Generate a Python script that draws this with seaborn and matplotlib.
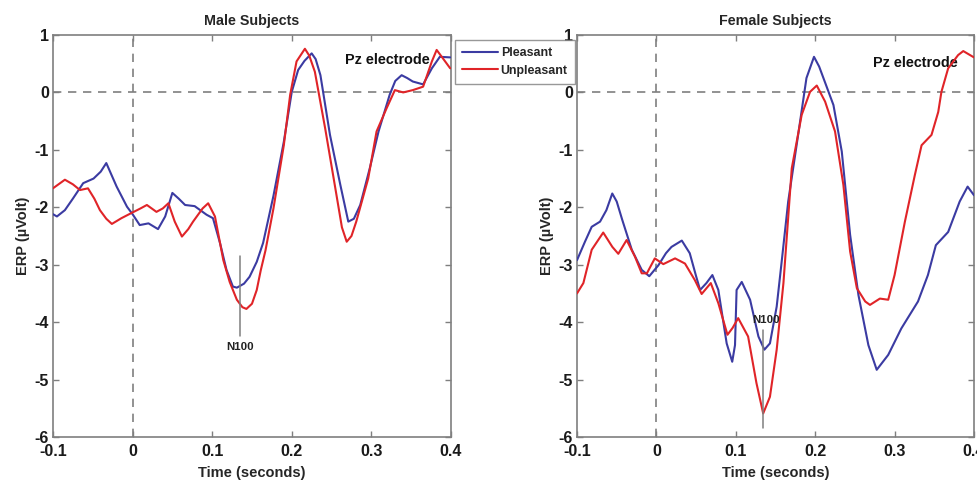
import matplotlib
matplotlib.use("Agg")
import matplotlib.pyplot as plt
import seaborn as sns
import pandas as pd

# ERP traces (time in s, amplitude in microvolt)
male_pleasant_t = [-0.100, -0.095, -0.085, -0.075, -0.062, -0.049, -0.040, -0.033, -0.020, -0.007,
                   0.000, 0.009, 0.020, 0.032, 0.041, 0.050, 0.058, 0.066, 0.078, 0.093,
                   0.101, 0.110, 0.118, 0.126, 0.131, 0.140, 0.147, 0.156, 0.164, 0.177,
                   0.190, 0.200, 0.208, 0.216, 0.225, 0.230, 0.236, 0.248, 0.261, 0.271,
                   0.278, 0.286, 0.298, 0.309, 0.323, 0.330, 0.338, 0.345, 0.352, 0.365,
                   0.376, 0.386, 0.399]
male_pleasant_v = [-2.12, -2.16, -2.05, -1.85, -1.58, -1.50, -1.38, -1.23, -1.64, -1.99,
                   -2.12, -2.31, -2.28, -2.38, -2.16, -1.75, -1.85, -1.96, -1.98, -2.13,
                   -2.19, -2.63, -3.09, -3.38, -3.40, -3.33, -3.21, -2.95, -2.62, -1.80,
                   -0.86, 0.01, 0.39, 0.55, 0.68, 0.58, 0.30, -0.74, -1.61, -2.25,
                   -2.20, -1.96, -1.32, -0.68, -0.04, 0.20, 0.30, 0.25, 0.19, 0.14,
                   0.42, 0.62, 0.61]

male_unpleasant_t = [-0.100, -0.085, -0.075, -0.066, -0.056, -0.048, -0.041, -0.033, -0.026, -0.014,
                     0.000, 0.010, 0.018, 0.030, 0.038, 0.045, 0.053, 0.062, 0.070, 0.076,
                     0.088, 0.095, 0.1035, 0.114, 0.122, 0.131, 0.138, 0.143, 0.150, 0.156,
                     0.161, 0.167, 0.177, 0.190, 0.198, 0.206, 0.2165, 0.222, 0.229, 0.242,
                     0.254, 0.263, 0.269, 0.275, 0.281, 0.296, 0.3065, 0.319, 0.3295, 0.340,
                     0.352, 0.365, 0.376, 0.382, 0.390, 0.399]
male_unpleasant_v = [-1.67, -1.52, -1.60, -1.70, -1.67, -1.85, -2.05, -2.20, -2.29, -2.19,
                     -2.09, -2.02, -1.96, -2.08, -2.02, -1.93, -2.25, -2.51, -2.38, -2.25,
                     -2.02, -1.93, -2.16, -2.92, -3.30, -3.61, -3.74, -3.77, -3.68, -3.44,
                     -3.10, -2.75, -2.02, -0.92, -0.04, 0.54, 0.76, 0.64, 0.36, -0.63,
                     -1.61, -2.35, -2.60, -2.50, -2.25, -1.50, -0.68, -0.28, 0.04, 0.00,
                     0.04, 0.10, 0.54, 0.74, 0.59, 0.42]

female_pleasant_t = [-0.100, -0.090, -0.0815, -0.071, -0.063, -0.0556, -0.050, -0.043, -0.031, -0.0185,
                     -0.009, 0.0025, 0.012, 0.019, 0.032, 0.042, 0.050, 0.055, 0.063, 0.0705,
                     0.078, 0.0885, 0.0955, 0.099, 0.101, 0.1075, 0.118, 0.1285, 0.136, 0.143,
                     0.1515, 0.158, 0.166, 0.1785, 0.189, 0.1985, 0.205, 0.212, 0.223, 0.2335,
                     0.244, 0.2545, 0.267, 0.2775, 0.292, 0.3085, 0.3295, 0.342, 0.352, 0.3675,
                     0.382, 0.392, 0.400]
female_pleasant_v = [-2.92, -2.60, -2.34, -2.25, -2.05, -1.76, -1.90, -2.22, -2.74, -3.09,
                     -3.20, -3.01, -2.80, -2.69, -2.58, -2.80, -3.20, -3.44, -3.32, -3.18,
                     -3.44, -4.37, -4.69, -4.40, -3.44, -3.30, -3.61, -4.25, -4.48, -4.37,
                     -3.73, -2.92, -1.90, -0.74, 0.25, 0.62, 0.45, 0.19, -0.22, -1.03,
                     -2.48, -3.53, -4.40, -4.83, -4.57, -4.11, -3.64, -3.18, -2.66, -2.43,
                     -1.90, -1.64, -1.79]

female_unpleasant_t = [-0.100, -0.092, -0.0815, -0.067, -0.0555, -0.048, -0.0375, -0.027, -0.0185, -0.012,
                       -0.002, 0.0087, 0.0235, 0.036, 0.0485, 0.057, 0.0685, 0.078, 0.0895, 0.096,
                       0.103, 0.1155, 0.126, 0.1345, 0.143, 0.1515, 0.160, 0.1705, 0.183, 0.1935,
                       0.202, 0.2125, 0.225, 0.2355, 0.244, 0.2525, 0.263, 0.269, 0.2815, 0.292,
                       0.300, 0.313, 0.3255, 0.334, 0.3465, 0.355, 0.359, 0.3675, 0.380, 0.3865,
                       0.400]
female_unpleasant_v = [-3.50, -3.32, -2.74, -2.44, -2.69, -2.81, -2.57, -2.86, -3.15, -3.15,
                       -2.89, -2.99, -2.89, -2.98, -3.27, -3.51, -3.32, -3.67, -4.22, -4.10,
                       -3.93, -4.25, -5.06, -5.59, -5.30, -4.48, -3.32, -1.32, -0.39, 0.01,
                       0.12, -0.16, -0.68, -1.61, -2.77, -3.41, -3.64, -3.70, -3.59, -3.61,
                       -3.18, -2.25, -1.44, -0.92, -0.74, -0.34, 0.01, 0.42, 0.65, 0.72,
                       0.61]

conditions = ["Pleasant", "Unpleasant"]
panel_titles = ["Male Subjects", "Female Subjects"]
x_ticks = [-0.1, 0, 0.1, 0.2, 0.3, 0.4]
x_ticklabels = ["-0.1", "0", "0.1", "0.2", "0.3", "0.4"]
y_ticks = [1, 0, -1, -2, -3, -4, -5, -6]
n100_time = [0.135, 0.134]
n100_span = [(-2.85, -4.25), (-4.14, -5.85)]
n100_text_y = [-4.43, -3.96]

sns.set_theme(style="white")
plt.rcParams["font.family"] = ["Liberation Sans", "DejaVu Sans"]
plt.rcParams["font.weight"] = "bold"

palette = {"Pleasant": "#3b3ba2", "Unpleasant": "#e02428"}
grey = "#7f7f7f"


def make_frame(pt, pv, ut, uv):
    a = pd.DataFrame({"Time": pt, "ERP": pv, "Condition": conditions[0]})
    b = pd.DataFrame({"Time": ut, "ERP": uv, "Condition": conditions[1]})
    return pd.concat([a, b], ignore_index=True)


frames = [
    make_frame(male_pleasant_t, male_pleasant_v, male_unpleasant_t, male_unpleasant_v),
    make_frame(female_pleasant_t, female_pleasant_v, female_unpleasant_t, female_unpleasant_v),
]

fig = plt.figure(figsize=(9.77, 4.8), dpi=100)
axes = [fig.add_axes([0.0542, 0.0896, 0.4074, 0.8375]),
        fig.add_axes([0.5906, 0.0896, 0.4063, 0.8375])]

for i, ax in enumerate(axes):
    ax.axhline(0, color=grey, lw=1.2, ls=(0, (5, 4)), zorder=1)
    ax.axvline(0, color=grey, lw=1.2, ls=(0, (5, 4)), zorder=1)
    sns.lineplot(data=frames[i], x="Time", y="ERP", hue="Condition", palette=palette,
                 estimator=None, lw=1.5, ax=ax, legend=(i == 0), zorder=3)

    # N100 marker
    lo, hi = n100_span[i]
    ax.plot([n100_time[i], n100_time[i]], [lo, hi], color=grey, lw=1.1, zorder=4)
    ax.text(n100_time[i] + (0.004 if i else 0), n100_text_y[i], "N100", ha="center", va="center",
            fontsize=8.2, fontweight="bold", color="#222222", zorder=5)
    ax.text(0.3195 if i == 0 else 0.3257, 0.56 if i == 0 else 0.51, "Pz electrode",
            ha="center", va="center", fontsize=10.4, fontweight="bold", color="#111111", zorder=2)

    ax.set_xlim(-0.1, 0.4)
    ax.set_ylim(-6, 1)
    ax.set_xticks(x_ticks)
    ax.set_xticklabels(x_ticklabels)
    ax.set_yticks(y_ticks)
    ax.set_yticklabels([str(v) for v in y_ticks])
    ax.tick_params(direction="in", length=4, width=1, color=grey, top=True, right=True,
                   bottom=True, left=True, labelsize=11.5)
    ax.tick_params(axis="x", pad=5)
    ax.tick_params(axis="y", pad=3)
    for lab in ax.get_xticklabels() + ax.get_yticklabels():
        lab.set_fontweight("bold")
        lab.set_color("#1a1a1a")
    for sp in ax.spines.values():
        sp.set_color(grey)
        sp.set_linewidth(1.2)
    ax.set_title(panel_titles[i], fontsize=10.3, fontweight="bold", pad=7)
    ax.set_xlabel("Time (seconds)", fontsize=10.5, fontweight="bold", labelpad=5)
    ax.set_ylabel("ERP (\u00b5Volt)", fontsize=10.5, fontweight="bold", labelpad=3)

handles, labels = axes[0].get_legend_handles_labels()
axes[0].get_legend().remove()
leg = fig.legend(handles, labels, loc="upper left", bbox_to_anchor=(0.4657, 0.917),
                 frameon=True, fancybox=False, fontsize=8.9, handlelength=2.9,
                 handletextpad=0.2, borderpad=0.6, labelspacing=0.45, borderaxespad=0)
leg.get_frame().set_edgecolor(grey)
leg.get_frame().set_linewidth(1.0)
for t in leg.get_texts():
    t.set_fontweight("bold")

fig.savefig("out.png", dpi=100)
